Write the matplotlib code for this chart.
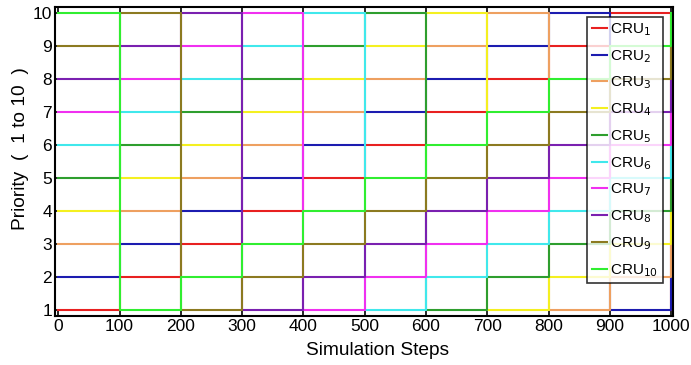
import matplotlib
matplotlib.use("Agg")
import matplotlib.pyplot as plt

plt.rcParams['font.family'] = ['Liberation Sans', 'DejaVu Sans']

steps = [0, 100, 200, 300, 400, 500, 600, 700, 800, 900, 1000]
cru1 = [1, 2, 3, 4, 5, 6, 7, 8, 9, 10, 1]
cru2 = [2, 3, 4, 5, 6, 7, 8, 9, 10, 1, 2]
cru3 = [3, 4, 5, 6, 7, 8, 9, 10, 1, 2, 3]
cru4 = [4, 5, 6, 7, 8, 9, 10, 1, 2, 3, 4]
cru5 = [5, 6, 7, 8, 9, 10, 1, 2, 3, 4, 5]
cru6 = [6, 7, 8, 9, 10, 1, 2, 3, 4, 5, 6]
cru7 = [7, 8, 9, 10, 1, 2, 3, 4, 5, 6, 7]
cru8 = [8, 9, 10, 1, 2, 3, 4, 5, 6, 7, 8]
cru9 = [9, 10, 1, 2, 3, 4, 5, 6, 7, 8, 9]
cru10 = [10, 1, 2, 3, 4, 5, 6, 7, 8, 9, 10]
series = [cru1, cru2, cru3, cru4, cru5, cru6, cru7, cru8, cru9, cru10]
labels = [f"CRU$_{{{i}}}$" for i in range(1, 11)]
colors = ['#e82020', '#1c1cb0', '#eea060', '#f4f020', '#2e9e2e',
          '#40e8ec', '#f030f0', '#7a20b0', '#8c7a20', '#30ee30']
xticks = [0, 100, 200, 300, 400, 500, 600, 700, 800, 900, 1000]
yticks = [1, 2, 3, 4, 5, 6, 7, 8, 9, 10]

fig = plt.figure(figsize=(6.91, 3.65), dpi=100)
ax = fig.add_axes([0.0796, 0.135, 0.894, 0.847])

for s, lab, c in zip(series, labels, colors):
    ax.plot(steps, s, drawstyle='steps-post', color=c, lw=1.5, label=lab)

ax.set_xlim(-5.4, 1002.5)
ax.set_ylim(0.83, 10.18)
ax.set_xticks(xticks)
ax.set_yticks(yticks)
ax.tick_params(direction='in', top=True, right=True, labelsize=12.5, length=4, width=1.2, pad=2)
for sp in ax.spines.values():
    sp.set_linewidth(1.5)
ax.set_xlabel('Simulation Steps', fontsize=13.8)
ax.set_ylabel('Priority  (  1 to 10  )', fontsize=13.8)
ax.xaxis.set_label_coords(0.522, -0.085)
ax.yaxis.set_label_coords(-0.042, 0.54)

leg = ax.legend(loc='upper right', fontsize=11, handlelength=1.0, handletextpad=0.2,
                labelspacing=0.66, borderaxespad=0.65, frameon=True, fancybox=False,
                borderpad=0.3)
leg.get_frame().set_edgecolor('black')
leg.get_frame().set_linewidth(1.2)

fig.savefig('out.png', dpi=100)
